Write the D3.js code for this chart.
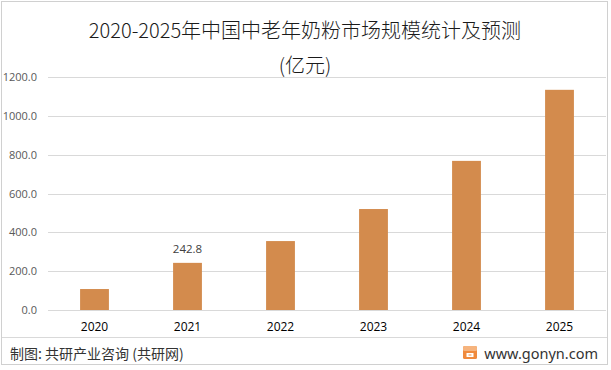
<!DOCTYPE html>
<html><head><meta charset="utf-8">
<script src="https://cdn.jsdelivr.net/npm/d3@7"></script>
<style>body{margin:0;background:#fff}svg{display:block}</style>
</head><body>
<svg id="c" width="611" height="370"></svg>
<script>
const years = ["2020","2021","2022","2023","2024","2025"];
const values = [108, 242.8, 355, 520, 768, 1134];
const labeled = ["2021"];
const yTicks = [0, 200, 400, 600, 800, 1000, 1200];
const titleLines = ["2020-2025年中国中老年奶粉市场规模统计及预测", "(亿元)"];
const sourceText = "制图: 共研产业咨询 (共研网)";
const siteText = "www.gonyn.com";

const svg = d3.select("#c");
const cn = "'Noto Sans CJK SC', 'Noto Sans', sans-serif";
const num = "'Open Sans', 'Noto Sans', sans-serif";

// frame
svg.append("rect").attr("x",1.5).attr("y",1.5).attr("width",606).attr("height",363)
  .attr("fill","#fff").attr("stroke","#d0d0d0");

const x = d3.scaleBand().domain(years).range([48, 606]).paddingInner(0.69).paddingOuter(0.345);
const y = d3.scaleLinear().domain([0, 1200]).range([310, 77]);

// grid
svg.append("g").selectAll("line").data(yTicks).join("line")
  .attr("x1", 48).attr("x2", 606)
  .attr("y1", d => Math.round(y(d))+0.5).attr("y2", d => Math.round(y(d))+0.5)
  .attr("stroke", "#d9d9d9").attr("stroke-width", 1);

// y axis labels
const ya = svg.append("g").attr("transform","translate(37,0)")
  .call(d3.axisLeft(y).tickValues(yTicks).tickFormat(d3.format(".1f")).tickSize(0).tickPadding(0));
ya.select(".domain").remove();
ya.selectAll("text").attr("font-family", num).attr("font-size", 11).attr("fill", "#595959");

// bars
svg.append("g").selectAll("rect").data(values).join("rect")
  .attr("x", (d,i) => x(years[i]))
  .attr("width", x.bandwidth())
  .attr("y", d => y(d))
  .attr("height", d => y(0) - y(d))
  .attr("fill", "#d38b4d");

// value labels
svg.append("g").selectAll("text").data(years.filter(v => labeled.includes(v))).join("text")
  .attr("x", d => x(d) + x.bandwidth()/2)
  .attr("y", d => y(values[years.indexOf(d)]) - 10)
  .attr("text-anchor","middle").attr("font-family", num).attr("font-size", 11.5)
  .attr("fill","#404040").text(d => values[years.indexOf(d)].toFixed(1));

// x axis labels
const xa = svg.append("g").attr("transform","translate(0,322)")
  .call(d3.axisBottom(x).tickSize(0).tickPadding(0));
xa.select(".domain").remove();
xa.selectAll("text").attr("font-family", num).attr("font-size", 12).attr("fill", "#000").attr("dy","0.71em");

// title
svg.append("g").selectAll("text").data(titleLines).join("text")
  .attr("x", 305).attr("y", (d,i) => 38 + i*35)
  .attr("text-anchor","middle").attr("font-family", cn).attr("font-size", 20)
  .attr("font-weight", 300).attr("fill","#1a1a1a").text(d => d);

// footer
svg.append("line").attr("x1",2).attr("x2",607).attr("y1",337.5).attr("y2",337.5).attr("stroke","#d9d9d9");
svg.append("text").attr("x",10).attr("y",359).attr("font-family",cn).attr("font-size",14)
  .attr("fill","#333").text(sourceText);
svg.append("text").attr("x",598).attr("y",359).attr("text-anchor","end").attr("font-family","'Noto Sans', sans-serif").attr("font-size",14.5)
  .attr("fill","#333").text(siteText);
// logo
const lg = svg.append("g").attr("transform","translate(463,346)");
lg.append("rect").attr("width",14).attr("height",13).attr("rx",1.5).attr("fill","#f08a3c");
lg.append("rect").attr("width",14).attr("height",5).attr("rx",1.5).attr("fill","#f6b47e");
lg.append("path").attr("d","M3.5,7 H10.5 V11 H3.5 Z").attr("fill","#fff");
lg.append("path").attr("d","M5.5,8.5 H8.5 V9.5 H5.5 Z").attr("fill","#f08a3c");
</script>
</body></html>
